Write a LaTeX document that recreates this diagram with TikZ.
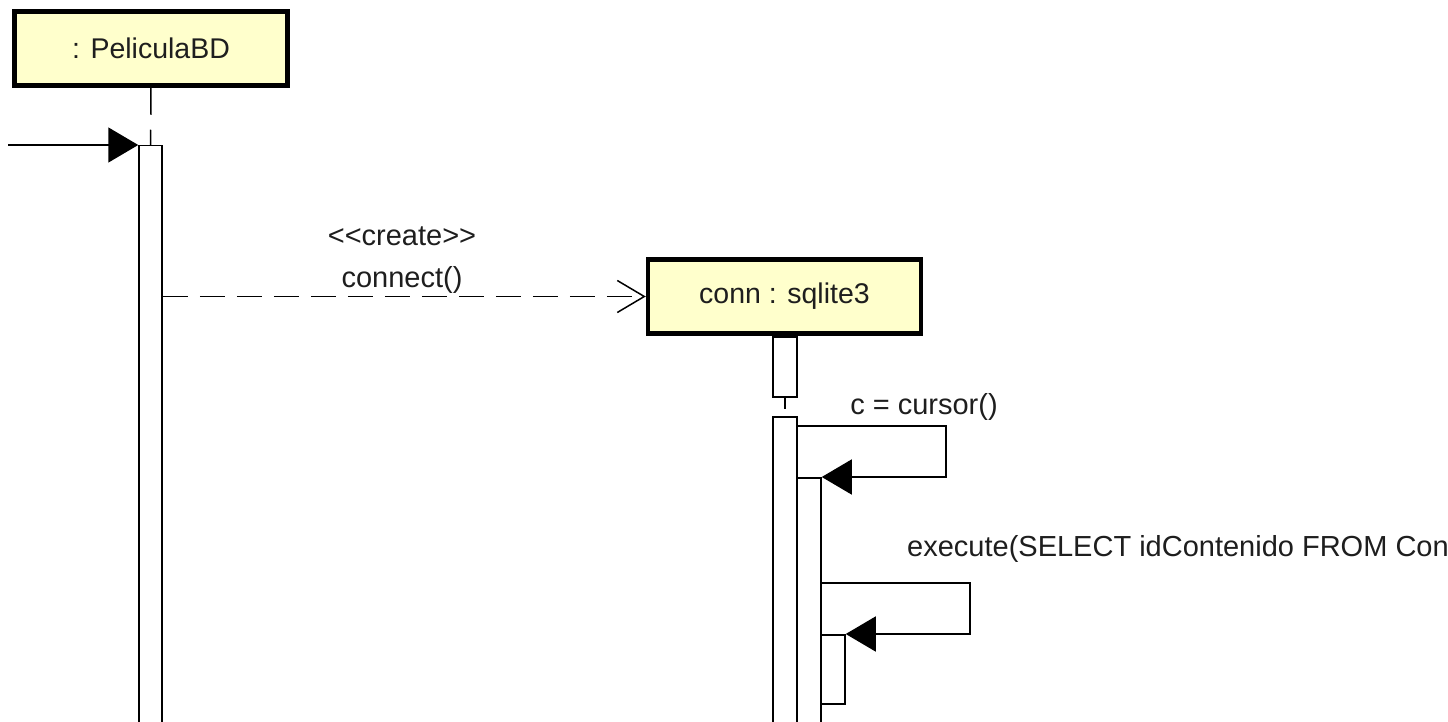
\documentclass[tikz,border=0pt]{standalone}
\usepackage{fontspec}
\setmainfont{Liberation Sans}
\usetikzlibrary{arrows.meta,calc}
\definecolor{objfill}{RGB}{255,255,204}
\definecolor{ink}{RGB}{30,30,30}
\begin{document}
\begin{tikzpicture}[x=1pt,y=-1pt,
  obj/.style={draw=black, line width=4.5pt, fill=objfill, minimum width=273pt, minimum height=74pt, inner sep=0pt, font=\fontsize{28.5}{34}\selectfont, text=ink},
  bar/.style={draw=black, line width=1.5pt, fill=white, inner sep=0pt, anchor=north, minimum width=24pt},
  msg/.style={draw=black, line width=1.5pt},
  lbl/.style={font=\fontsize{29}{34}\selectfont, text=ink, inner sep=0pt},
  sync/.style={-{Triangle[length=30pt,width=35pt]}},
  create/.style={dash pattern=on 25pt off 12pt, -{Straight Barb[length=27pt,width=32pt]}}
]
\useasboundingbox (0,0) rectangle (1448,722);
\clip (0,0) rectangle (1448,722);
\fill[white] (0,0) rectangle (1448,722);

% objects
\node[obj] (pel) at (151,48.5) {: PeliculaBD};
\node[obj] (conn) at (784.5,296.5) {conn : sqlite3};

% activation bars
\node[bar, minimum width=23pt, minimum height=620pt] (pa) at (150.5,145) {};
\node[bar, minimum height=60pt] (ca1) at (785,336) {};
\node[bar, minimum height=330pt] (ca2) at (785,416) {};
\node[bar, minimum height=290pt] (ca3) at (809,477) {};
\node[bar, minimum height=69pt] (ca4) at (833,634) {};

% lifelines
\draw[msg, dash pattern=on 27pt off 15pt] (pel.south) -- (pa.north);
\draw[msg, dash pattern=on 11pt off 12pt] (ca1.south) -- (ca2.north);

% found message
\coordinate (start) at (8,145);
\draw[msg, sync] (start) -- (pa.north west);

% create message
\draw[msg, create] (pa.east |- conn.west) -- (conn.west);
\node[lbl] (lcreate) at (402,236) {<{}<create>{}>};
\node[lbl] (lconnect) at (402,280) {connect()};

% self message cursor
\coordinate (c1r) at (946,426);
\draw[msg, sync] (ca2.east |- c1r) -- (c1r) |- (ca3.north east);
\node[lbl] (lcursor) at (924,407) {c = cursor()};

% self message execute
\coordinate (c2r) at (970,583);
\draw[msg, sync] (ca3.east |- c2r) -- (c2r) |- (ca4.north east);
\node[lbl, anchor=west] (lexec) at (907,549) {execute(SELECT idContenido FROM Contenido};
\end{tikzpicture}
\end{document}
